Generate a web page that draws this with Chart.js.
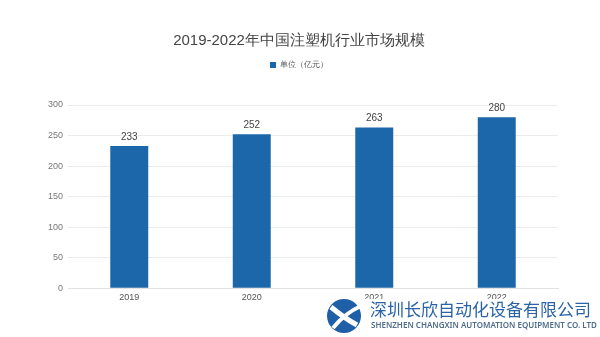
<!DOCTYPE html>
<html>
<head>
<meta charset="utf-8">
<script src="https://cdn.jsdelivr.net/npm/chart.js@4.4.1/dist/chart.umd.min.js"></script>
<style>
    html, body { margin: 0; padding: 0; background: #fff; }
    #wrap { position: relative; width: 600px; height: 337px; }
    #chart { display: block; }
    .brand { position: absolute; left: 326px; top: 299px; width: 274px; height: 38px; background: #fff; }
    .brand svg { position: absolute; left: 0; top: -1px; }
    .brand .cn { position: absolute; left: 44px; top: 0; font-family: "Noto Sans CJK SC", sans-serif; font-size: 17px; color: #2a63a6; line-height: 20px; white-space: nowrap; }
    .brand .en { position: absolute; left: 45px; top: 21px; font-family: "Noto Sans", sans-serif; font-size: 8px; font-weight: 600; color: #4d6b8c; line-height: 10px; white-space: nowrap; letter-spacing: 0; }
</style>
</head>
<body>
<div id="wrap">
    <canvas id="chart" width="600" height="337"></canvas>
    <div class="brand">
        <svg width="36" height="36" viewBox="0 0 36 36">
            <circle cx="18" cy="18" r="17" fill="#1f5fa8"/>
            <path d="M5 9 Q18 20 31 27" stroke="#fff" stroke-width="5" fill="none"/>
            <path d="M7 30 Q19 15 35 8" stroke="#fff" stroke-width="4" fill="none"/>
        </svg>
        <div class="cn">深圳长欣自动化设备有限公司</div>
        <div class="en">SHENZHEN CHANGXIN AUTOMATION EQUIPMENT CO. LTD</div>
    </div>
</div>
<script>
// --- Market size data ---
const years = ['2019', '2020', '2021', '2022'];
const marketSize = [233, 252, 263, 280];
const yTicks = [0, 50, 100, 150, 200, 250, 300];

const barColor = '#1c67aa';
const font = '"Liberation Sans", Arial, sans-serif';

// --- Draws the value above each bar ---
const valueLabels = {
    id: 'valueLabels',
    afterDatasetsDraw(chart) {
        const ctx = chart.ctx;
        const meta = chart.getDatasetMeta(0);
        ctx.save();
        ctx.font = '10px ' + font;
        ctx.fillStyle = '#444';
        ctx.textAlign = 'center';
        ctx.textBaseline = 'bottom';
        meta.data.forEach((bar, i) => {
            ctx.fillText(marketSize[i], bar.x, bar.y - 4);
        });
        ctx.restore();
    }
};

// --- Extra room between the legend and the plot ---
const legendGap = {
    id: 'legendGap',
    beforeInit(chart) {
        const fit = chart.legend.fit;
        chart.legend.fit = function () {
            fit.call(this);
            this.height += 26;
        };
    }
};

new Chart(document.getElementById('chart'), {
    type: 'bar',
    data: {
        labels: years,
        datasets: [{
            label: '单位（亿元）',
            data: marketSize,
            backgroundColor: barColor,
            barPercentage: 0.62,
            categoryPercentage: 0.5
        }]
    },
    options: {
        responsive: false,
        animation: false,
        layout: { padding: { left: 40, right: 42, top: 28, bottom: 30 } },
        plugins: {
            title: {
                display: true,
                text: '2019-2022年中国注塑机行业市场规模',
                color: '#444',
                font: { family: font, size: 15, weight: 'normal' },
                padding: { top: 4, bottom: 5 }
            },
            legend: {
                display: true,
                labels: {
                    boxWidth: 6,
                    boxHeight: 6,
                    color: '#555',
                    font: { family: font, size: 8 },
                    padding: 6
                }
            },
            tooltip: { enabled: false }
        },
        scales: {
            x: {
                grid: { display: false, drawTicks: false },
                border: { color: '#e2e2e2' },
                ticks: { color: '#555', font: { family: font, size: 9 }, padding: 4 }
            },
            y: {
                min: 0,
                max: 300,
                afterBuildTicks(axis) {
                    axis.ticks = yTicks.map(v => ({ value: v }));
                },
                afterFit(axis) { axis.width = 28; },
                grid: { color: '#ececec', drawTicks: false },
                border: { display: false },
                ticks: { color: '#777', font: { family: font, size: 9 }, padding: 5 }
            }
        }
    },
    plugins: [valueLabels, legendGap]
});
</script>
</body>
</html>
